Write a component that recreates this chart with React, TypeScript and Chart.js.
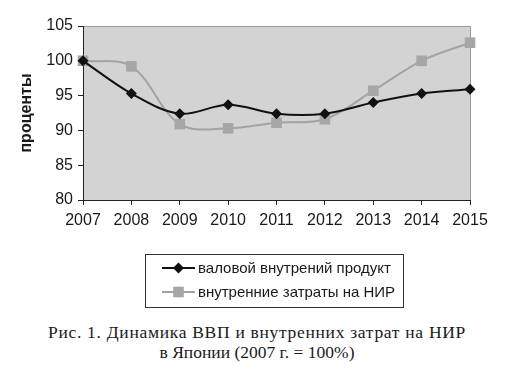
import React, { useEffect, useRef } from "react";
import { Chart, registerables } from "chart.js";

Chart.register(...registerables);

const years = ["2007", "2008", "2009", "2010", "2011", "2012", "2013", "2014", "2015"];
const gdp = [100, 95.3, 92.4, 93.7, 92.4, 92.4, 94.0, 95.3, 95.9];
const rnd = [100, 99.2, 90.9, 90.3, 91.1, 91.6, 95.7, 100.0, 102.6];
const seriesNames = ["валовой внутрений продукт", "внутренние затраты на НИР"];
const yTitle = "проценты";
const captionLines = ["Рис. 1. Динамика ВВП и внутренних затрат на НИР", "в Японии (2007 г. = 100%)"];
const yMin = 80;
const yMax = 105;
const yStep = 5;

const SANS = "'Liberation Sans', Arial, sans-serif";

const drawMarker = (ctx: CanvasRenderingContext2D, style: string, x: number, y: number, r: number, color: string) => {
  ctx.fillStyle = color;
  ctx.beginPath();
  if (style === "rectRot") {
    ctx.moveTo(x, y - r);
    ctx.lineTo(x + r, y);
    ctx.lineTo(x, y + r);
    ctx.lineTo(x - r, y);
    ctx.closePath();
  } else {
    const s = r * Math.SQRT1_2;
    ctx.rect(x - s, y - s, 2 * s, 2 * s);
  }
  ctx.fill();
};

const decorPlugin = {
  id: "decor",
  beforeDraw(chart: any) {
    const { ctx, chartArea: a } = chart;
    ctx.save();
    ctx.fillStyle = "#d3d3d3";
    ctx.fillRect(a.left, a.top, a.right - a.left, a.bottom - a.top);
    ctx.strokeStyle = "#9a9a9a";
    ctx.lineWidth = 1;
    ctx.beginPath();
    ctx.moveTo(a.left, a.top + 0.5);
    ctx.lineTo(a.right + 0.5, a.top + 0.5);
    ctx.lineTo(a.right + 0.5, a.bottom);
    ctx.stroke();
    ctx.restore();
  },
  afterDraw(chart: any) {
    const { ctx, chartArea: a } = chart;
    ctx.save();
    // y-axis title
    ctx.translate(27, (a.top + a.bottom) / 2);
    ctx.rotate(-Math.PI / 2);
    ctx.fillStyle = "#1a1a1a";
    ctx.font = `bold 16px ${SANS}`;
    ctx.textAlign = "center";
    ctx.textBaseline = "middle";
    ctx.fillText(yTitle, 0, 0);
    ctx.restore();

    // legend box
    ctx.save();
    ctx.strokeStyle = "#333";
    ctx.lineWidth = 1;
    ctx.strokeRect(145.5, 254.5, 258, 53);
    const rows = [268, 292];
    chart.data.datasets.forEach((ds: any, i: number) => {
      const y = rows[i];
      ctx.strokeStyle = ds.borderColor;
      ctx.lineWidth = ds.borderWidth;
      ctx.beginPath();
      ctx.moveTo(162, y);
      ctx.lineTo(195, y);
      ctx.stroke();
      drawMarker(ctx, ds.pointStyle, 178.5, y, ds.pointRadius, ds.pointBackgroundColor);
      ctx.fillStyle = "#1a1a1a";
      ctx.font = `15px ${SANS}`;
      ctx.textAlign = "left";
      ctx.textBaseline = "middle";
      ctx.fillText(ds.label, 198, y + 1);
    });
    ctx.restore();
  },
};

export default function App() {
  const ref = useRef<HTMLCanvasElement | null>(null);

  useEffect(() => {
    if (!ref.current) return;
    const tickFont = { family: SANS, size: 16 };
    const chart = new Chart(ref.current, {
      type: "line",
      data: {
        labels: years,
        datasets: [
          {
            label: seriesNames[0],
            data: gdp,
            borderColor: "#111111",
            backgroundColor: "#111111",
            borderWidth: 2,
            pointStyle: "rectRot",
            pointRadius: 5.5,
            pointBackgroundColor: "#111111",
            pointBorderColor: "#111111",
            pointBorderWidth: 0,
            tension: 0.35,
            clip: false,
          },
          {
            label: seriesNames[1],
            data: rnd,
            borderColor: "#a3a3a3",
            backgroundColor: "#a3a3a3",
            borderWidth: 2,
            pointStyle: "rect",
            pointRadius: 7.5,
            pointBackgroundColor: "#a6a6a6",
            pointBorderColor: "#a6a6a6",
            pointBorderWidth: 0,
            tension: 0.35,
            clip: false,
          },
        ],
      },
      options: {
        animation: false,
        responsive: false,
        maintainAspectRatio: false,
        layout: { padding: { left: 0, top: 26, right: 44, bottom: 75 } },
        plugins: { legend: { display: false }, tooltip: { enabled: false } },
        scales: {
          x: {
            type: "category",
            offset: false,
            grid: { display: true, drawOnChartArea: false, drawTicks: true, tickLength: 5, color: "#222" },
            border: { color: "#222", width: 1 },
            ticks: { font: tickFont, color: "#1a1a1a", padding: 6, maxRotation: 0, autoSkip: false },
            afterFit(s: any) {
              s.height = 40;
            },
          },
          y: {
            min: yMin,
            max: yMax,
            grid: { display: true, drawOnChartArea: false, drawTicks: true, tickLength: 5, color: "#222" },
            border: { color: "#222", width: 1 },
            ticks: { stepSize: yStep, font: tickFont, color: "#1a1a1a", padding: 5 },
            afterFit(s: any) {
              s.width = 83;
            },
          },
        },
      },
      plugins: [decorPlugin],
    } as any);
    return () => chart.destroy();
  }, []);

  return (
    <div style={{ position: "absolute", left: 0, top: 0, width: 514, height: 380, background: "#fff" }}>
      <canvas ref={ref} width={514} height={315} style={{ position: "absolute", left: 0, top: 0 }} />
      <div
        style={{
          position: "absolute",
          left: 0,
          top: 322,
          width: 514,
          textAlign: "center",
          fontFamily: "'Liberation Serif', 'Times New Roman', serif",
          fontSize: 17.5,
          lineHeight: "20px",
          color: "#1a1a1a",
        }}
      >
        {captionLines.map((l, i) => (
          <div key={i} style={{ letterSpacing: i === 0 ? "0.7px" : "0px" }}>
            {l}
          </div>
        ))}
      </div>
    </div>
  );
}
